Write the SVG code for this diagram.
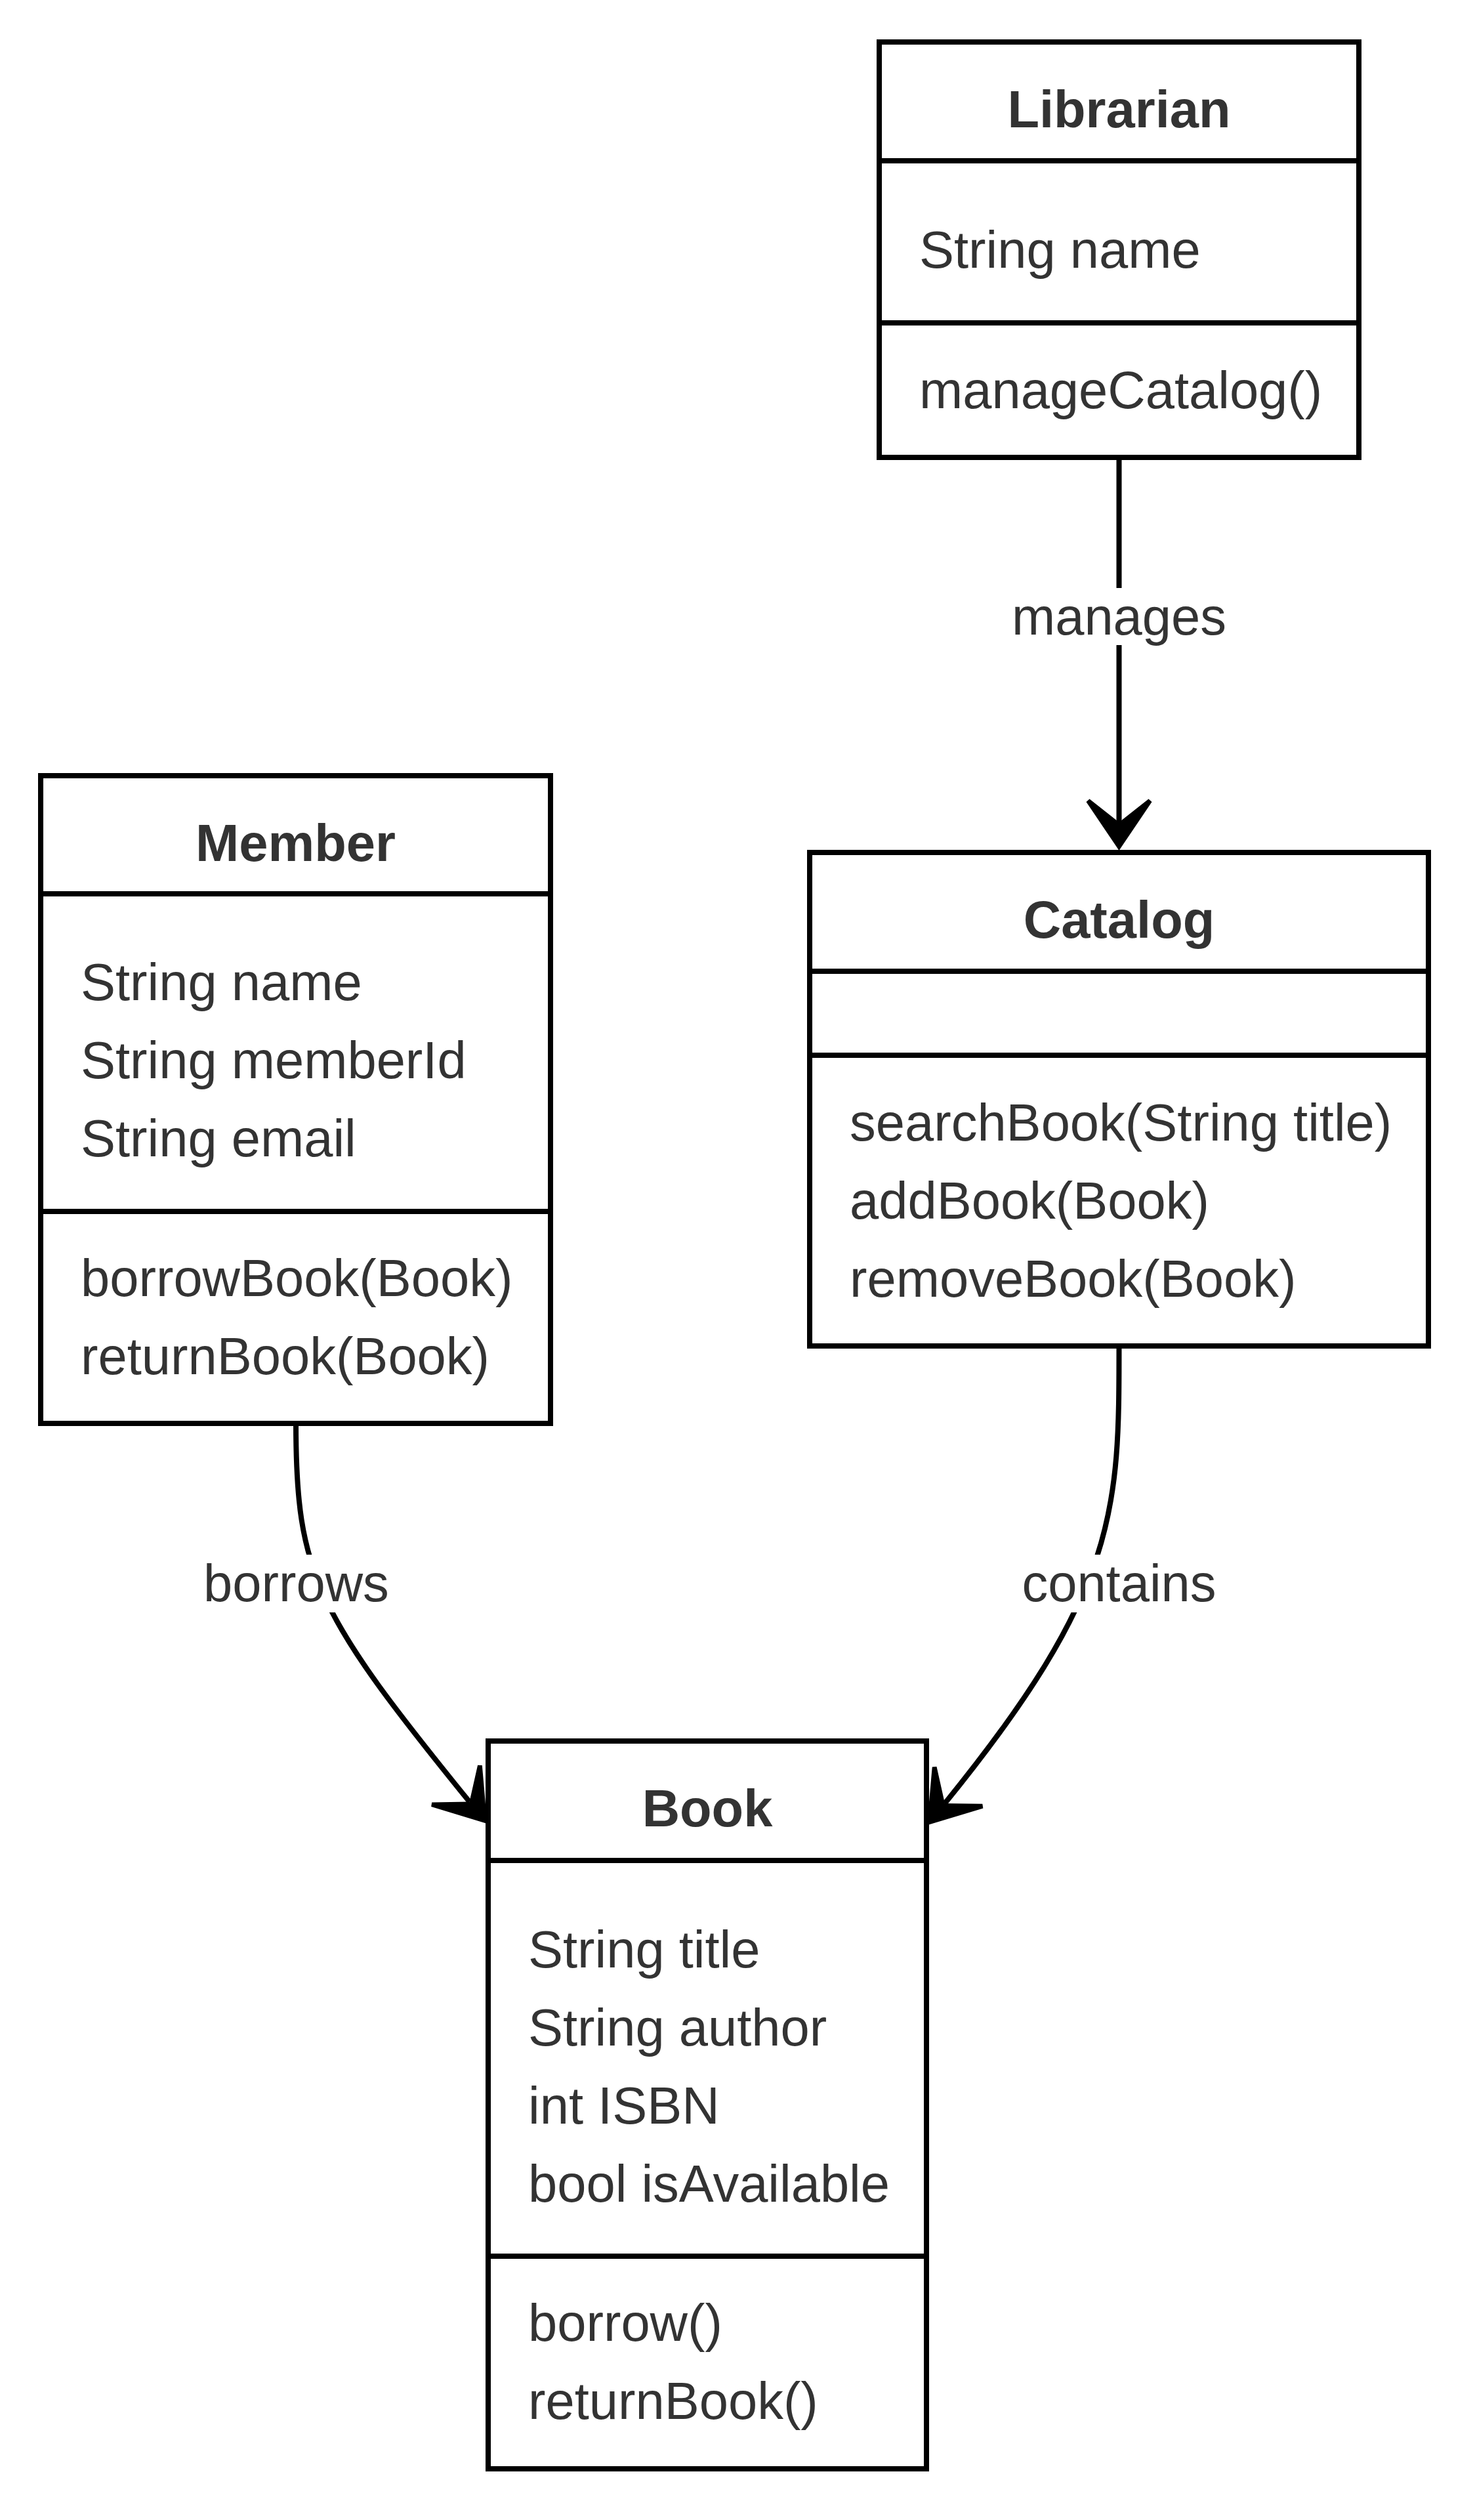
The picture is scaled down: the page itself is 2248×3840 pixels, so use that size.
<svg xmlns="http://www.w3.org/2000/svg" width="2248" height="3840" viewBox="0 0 2248 3840">
  <style>
    .box { fill: #ffffff; stroke: #000000; stroke-width: 8; }
    .div { stroke: #000000; stroke-width: 8; fill: none; }
    .edge { fill: none; stroke: #000000; stroke-width: 8; }
    .t { font-family: "Liberation Sans", Arial, Helvetica, sans-serif; font-size: 79.5px; fill: #333333; }
    .title { font-weight: bold; text-anchor: middle; }
    .lbl { text-anchor: middle; }
    .lblbg { fill: #ffffff; stroke: none; }
  </style>
  <defs>
    <marker id="arrow" markerUnits="userSpaceOnUse" viewBox="-82 -54 86 108" refX="-43" refY="0" markerWidth="86" markerHeight="108" orient="auto" overflow="visible">
      <path d="M0,0 L-74,-50 L-78.5,-45 L-43,0 L-78.5,45 L-74,50 Z" fill="#000000"/>
    </marker>
  </defs>
  <rect x="0" y="0" width="2248" height="3840" fill="#ffffff"/>

  <g id="connectors">
    <path class="edge" d="M1705.5,697 L1705.5,1253" marker-end="url(#arrow)"/>
    <path class="edge" d="M451,2169 C451,2399 482.4,2458.5 715.5,2745.6" marker-end="url(#arrow)"/>
    <path class="edge" d="M1705.5,2051 C1705.5,2301 1705,2422 1440,2748" marker-end="url(#arrow)"/>
    <rect class="lblbg" x="1543" y="896" width="325" height="87"/>
    <text class="t lbl" x="1705.5" y="967">manages</text>
    <rect class="lblbg" x="310" y="2369" width="283" height="88"/>
    <text class="t lbl" x="451.5" y="2440">borrows</text>
    <rect class="lblbg" x="1556" y="2369" width="299" height="88"/>
    <text class="t lbl" x="1705.5" y="2440">contains</text>
  </g>

  <g id="Librarian">
    <rect class="box" x="1340" y="64" width="731" height="633"/>
    <line class="div" x1="1340" y1="245" x2="2071" y2="245"/>
    <line class="div" x1="1340" y1="492" x2="2071" y2="492"/>
    <text class="t title" x="1705.5" y="194">Librarian</text>
    <text class="t" x="1401" y="408">String name</text>
    <text class="t" x="1401" y="622">manageCatalog()</text>
  </g>

  <g id="Member">
    <rect class="box" x="62" y="1182" width="777" height="987"/>
    <line class="div" x1="62" y1="1362" x2="839" y2="1362"/>
    <line class="div" x1="62" y1="1846" x2="839" y2="1846"/>
    <text class="t title" x="450.5" y="1312">Member</text>
    <text class="t" x="123" y="1524">String name</text>
    <text class="t" x="123" y="1643">String memberId</text>
    <text class="t" x="123" y="1762">String email</text>
    <text class="t" x="123" y="1975">borrowBook(Book)</text>
    <text class="t" x="123" y="2094">returnBook(Book)</text>
  </g>

  <g id="Catalog">
    <rect class="box" x="1234" y="1299" width="943" height="752"/>
    <line class="div" x1="1234" y1="1480" x2="2177" y2="1480"/>
    <line class="div" x1="1234" y1="1608" x2="2177" y2="1608"/>
    <text class="t title" x="1705.5" y="1429">Catalog</text>
    <text class="t" x="1295" y="1738">searchBook(String title)</text>
    <text class="t" x="1295" y="1857">addBook(Book)</text>
    <text class="t" x="1295" y="1976">removeBook(Book)</text>
  </g>

  <g id="Book">
    <rect class="box" x="744" y="2653" width="668" height="1109"/>
    <line class="div" x1="744" y1="2835" x2="1412" y2="2835"/>
    <line class="div" x1="744" y1="3438" x2="1412" y2="3438"/>
    <text class="t title" x="1078" y="2783">Book</text>
    <text class="t" x="805" y="2998">String title</text>
    <text class="t" x="805" y="3117">String author</text>
    <text class="t" x="805" y="3236">int ISBN</text>
    <text class="t" x="805" y="3355">bool isAvailable</text>
    <text class="t" x="805" y="3567">borrow()</text>
    <text class="t" x="805" y="3686">returnBook()</text>
  </g>
</svg>
